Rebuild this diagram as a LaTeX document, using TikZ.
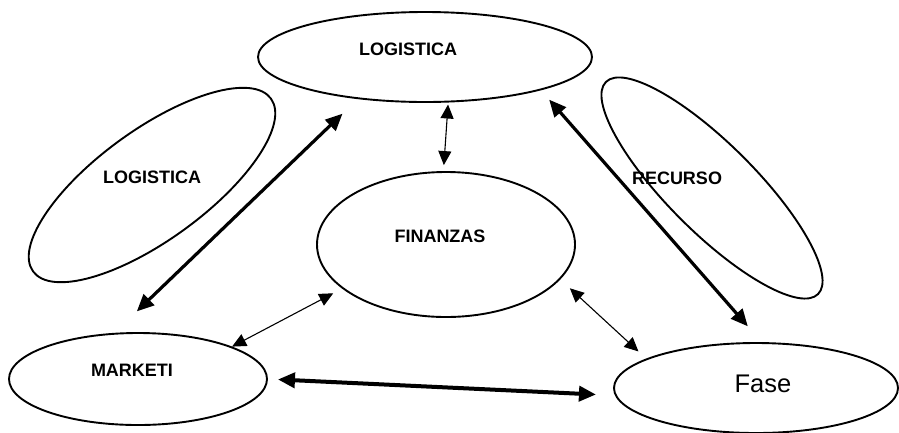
\documentclass[tikz,border=0pt]{standalone}
\usepackage{fontspec}
\setmainfont{Liberation Sans}
\usetikzlibrary{shapes.geometric,arrows.meta}
\begin{document}
\begin{tikzpicture}[x=1pt,y=-1pt,
  oval/.style={ellipse, draw, line width=1.9pt, inner sep=0pt},
  lbl/.style={font=\bfseries\fontsize{18}{20}\selectfont, inner sep=0pt},
  biglbl/.style={font=\fontsize{25.5}{28}\selectfont, inner sep=0pt},
  thinlink/.style={line width=1.1pt,
    {Triangle[length=14pt,width=13pt]}-{Triangle[length=14pt,width=13pt]}},
  thicklink/.style={line width=3.2pt,
    {Triangle[length=17pt,width=15pt]}-{Triangle[length=17pt,width=15pt]}},
]
\useasboundingbox (0,0) rectangle (899,432);

% ovals
\node[oval, minimum width=334, minimum height=90] (top) at (425,57) {};
\node[oval, minimum width=294, minimum height=110, rotate=36] (lg) at (152,185) {};
\node[oval, minimum width=300, minimum height=88, rotate=-45] (rc) at (712,188) {};
\node[oval, minimum width=258, minimum height=145] (fin) at (446,244.5) {};
\node[oval, minimum width=258, minimum height=92] (mk) at (138,379) {};
\node[oval, minimum width=284, minimum height=90] (fa) at (756,388) {};

% labels
\node[lbl] (ttop) at (408,49) {LOGISTICA};
\node[lbl] (tlg) at (152,177) {LOGISTICA};
\node[lbl] (trc) at (677,178) {RECURSO};
\node[lbl] (tfin) at (440,236) {FINANZAS};
\node[lbl] (tmk) at (132,370) {MARKETI};
\node[biglbl] (tfa) at (763,384) {Fase};

% connectors
\draw[thinlink, shorten <=2pt, shorten >=6pt] (top.-63.9) -- (fin.92.4);
\draw[thicklink, shorten <=21pt, shorten >=31pt] (top.-148.5) -- (mk.117);
\draw[thicklink, shorten <=12.5pt, shorten >=21pt] (top.-16.9) -- (fa.83.7);
\draw[thinlink, shorten <=10pt, shorten >=0pt] (fin.-157.7) -- (mk.19.2);
\draw[thinlink, shorten <=13pt, shorten >=10.5pt] (fin.-17.6) -- (fa.165.9);
\draw[thicklink, line width=4pt, shorten <=10pt, shorten >=19pt] (mk.-0.5) -- (fa.-177.7);
\end{tikzpicture}
\end{document}
